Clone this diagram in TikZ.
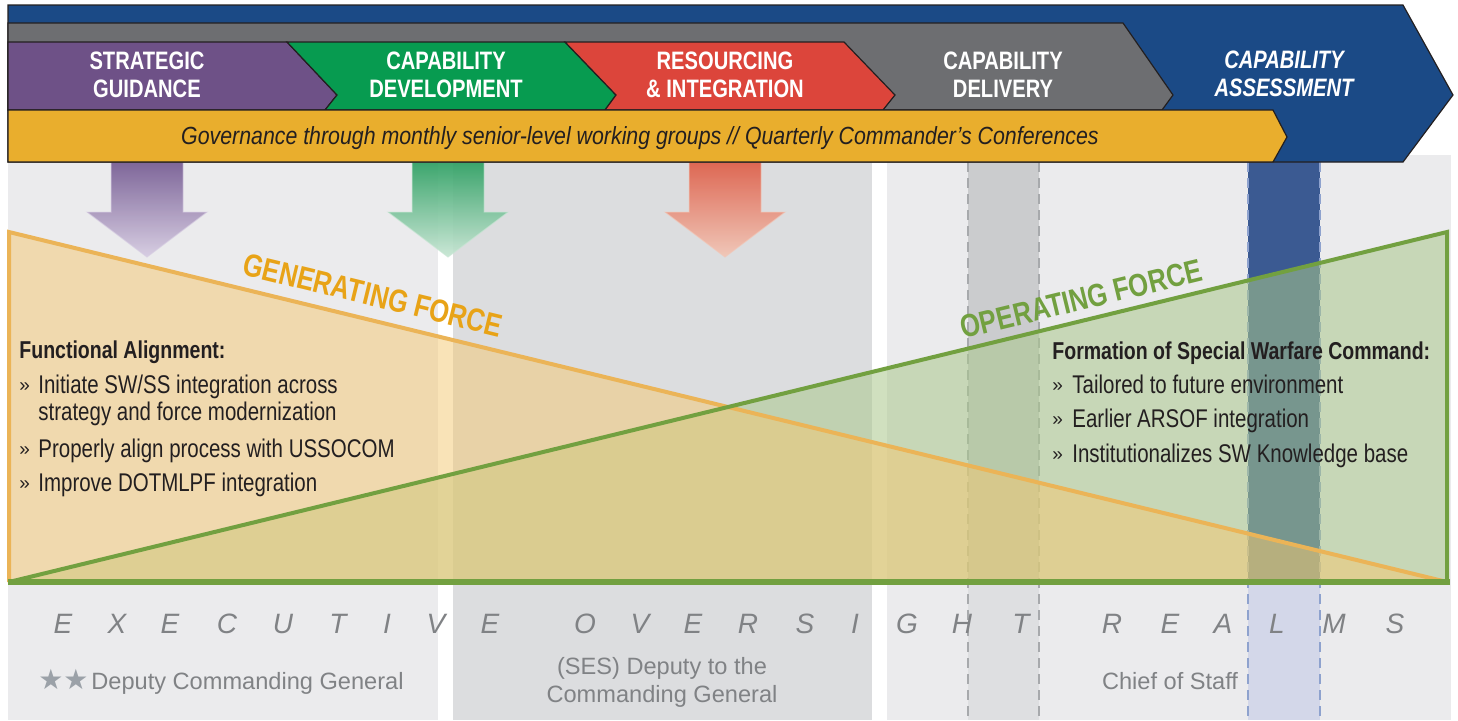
\documentclass[tikz,border=0pt]{standalone}
\usepackage{fontspec}
\setmainfont{Liberation Sans}
\newfontfamily\condfont[FakeStretch=0.8]{Liberation Sans}
\newfontfamily\govfont[FakeStretch=0.86]{Liberation Sans}
\newfontfamily\starfont{DejaVu Sans}
\usetikzlibrary{positioning}

\definecolor{cmdblue}{HTML}{1B4A86}
\definecolor{delgray}{HTML}{6D6E71}
\definecolor{stratpurple}{HTML}{6E5187}
\definecolor{devgreen}{HTML}{079B50}
\definecolor{resred}{HTML}{DC453B}
\definecolor{govyellow}{HTML}{E9AE2D}
\definecolor{inkdark}{HTML}{231F20}
\definecolor{realmgray}{HTML}{808285}
\definecolor{panelgray}{HTML}{EBEBED}
\definecolor{panelmid}{HTML}{DCDDDF}
\definecolor{genorange}{HTML}{E8A317}
\definecolor{genfill}{HTML}{F5C870}
\definecolor{genline}{HTML}{EBB457}
\definecolor{opgreen}{HTML}{72A040}
\definecolor{opfill}{HTML}{AAC88C}
\definecolor{colblue}{HTML}{3B5A92}
\definecolor{colbluelight}{HTML}{D3D7E9}
\definecolor{colblueedge}{HTML}{8EA2CE}
\definecolor{colgray}{HTML}{CBCCCE}
\definecolor{colgraylight}{HTML}{DEDFE1}
\definecolor{colgrayedge}{HTML}{A7A9AC}
\definecolor{starsilver}{HTML}{9BA1A8}
\definecolor{arrpurpletop}{HTML}{765C93}
\definecolor{arrpurplebot}{HTML}{D6CCE2}
\definecolor{arrgreentop}{HTML}{2EA063}
\definecolor{arrgreenbot}{HTML}{C8E6D4}
\definecolor{arrredtop}{HTML}{DE5E48}
\definecolor{arrredbot}{HTML}{F2C6B6}

\tikzset{
  chev/.style={draw=inkdark, line width=0.6pt, line join=miter},
  chevtext/.style={text=white, align=center, inner sep=0pt, font=\condfont\bfseries\fontsize{12.6}{14}\selectfont},
  forcetext/.style={inner sep=0pt, font=\condfont\bfseries\fontsize{16}{16}\selectfont},
  headtext/.style={anchor=base west, text=inkdark, inner sep=0pt, font=\condfont\bfseries\fontsize{12.2}{13}\selectfont},
  itemtext/.style={anchor=base west, text=inkdark, inner sep=0pt, font=\condfont\fontsize{12.8}{14}\selectfont},
  bullet/.style={anchor=base west, text=inkdark, inner sep=0pt, font=\fontsize{9.5}{10}\selectfont},
  realm/.style={text=realmgray, inner sep=0pt, font=\itshape\fontsize{14}{14}\selectfont},
  officetext/.style={text=realmgray, align=center, inner sep=0pt, font=\fontsize{11.8}{14}\selectfont},
  coledge/.style={dash pattern=on 5pt off 3pt, line width=0.8pt},
  blockarrow/.style={line width=0.5pt, fill opacity=0.92, draw opacity=0.6},
}

\newcommand{\downblock}[4]{%
  \shade[blockarrow, top color=#2, bottom color=#3, draw=#4]
    ({#1-36},162) -- ({#1+36},162) -- ({#1+36},212) -- ({#1+60},212)
    -- (#1,257) -- ({#1-60},212) -- ({#1-36},212) -- cycle;}

\begin{document}
\begin{tikzpicture}[x=0.5pt, y=-0.5pt]
  \useasboundingbox (0,0) rectangle (1458,720);
  \fill[white] (0,0) rectangle (1458,720);

  % oversight realm panels
  \fill[panelgray] (8,150) rectangle (438,720);
  \fill[panelmid] (453,150) rectangle (872,720);
  \fill[panelgray] (887,155) rectangle (1451,720);

  % dashed columns
  \fill[colgray] (968,162) rectangle (1039,582);
  \fill[colgraylight] (968,582) rectangle (1039,720);
  \draw[colgrayedge, coledge] (968,162) -- (968,720) (1039,162) -- (1039,720);
  \fill[colblue] (1248,162) rectangle (1320,582);
  \fill[colbluelight] (1248,582) rectangle (1320,720);
  \draw[colblueedge, coledge] (1248,162) -- (1248,720) (1320,162) -- (1320,720);

  % down arrows
  \downblock{147}{arrpurpletop}{arrpurplebot}{arrpurplebot}
  \downblock{448}{arrgreentop}{arrgreenbot}{arrgreenbot}
  \downblock{725}{arrredtop}{arrredbot}{arrredbot}

  % generating / operating force wedges
  \fill[opfill, fill opacity=0.55] (9,582) -- (1447,232) -- (1447,582) -- cycle;
  \fill[genfill, fill opacity=0.5] (9,232) -- (1447,582) -- (9,582) -- cycle;
  \draw[genline, line width=2pt, line join=miter] (9,582) -- (9,232) -- (1447,582);
  \draw[opgreen, line width=2pt, line join=miter] (9,582) -- (1447,232) -- (1447,582);
  \draw[opgreen, line width=2.6pt] (8,582) -- (1450,582);

  % process chevrons
  \filldraw[chev, fill=cmdblue] (8,5) -- (1403,5) -- (1453,95) -- (1403,162) -- (8,162) -- cycle;
  \filldraw[chev, fill=delgray] (8,23) -- (1123,23) -- (1173,95) -- (1162,110) -- (8,110) -- cycle;
  \filldraw[chev, fill=stratpurple] (8,42) -- (287,42) -- (337,95) -- (325,110) -- (8,110) -- cycle;
  \filldraw[chev, fill=devgreen] (287,42) -- (565,42) -- (616,95) -- (605,110) -- (325,110) -- (337,95) -- cycle;
  \filldraw[chev, fill=resred] (565,42) -- (844,42) -- (895,95) -- (883,110) -- (605,110) -- (616,95) -- cycle;
  \filldraw[chev, fill=govyellow] (8,110) -- (1273,110) -- (1287,137) -- (1273,162) -- (8,162) -- cycle;

  \node[chevtext] (strat) at (147,75) {STRATEGIC\\GUIDANCE};
  \node[chevtext] (capdev) at (446,75) {CAPABILITY\\DEVELOPMENT};
  \node[chevtext] (resint) at (725,75) {RESOURCING\\\& INTEGRATION};
  \node[chevtext] (capdel) at (1003,75) {CAPABILITY\\DELIVERY};
  \node[chevtext, font=\condfont\bfseries\itshape\fontsize{12.6}{14}\selectfont] (capass) at (1284,74) {CAPABILITY\\ASSESSMENT};
  \node[anchor=base, inner sep=0pt, text=inkdark, font=\govfont\itshape\fontsize{12.4}{13}\selectfont]
    (govern) at (640,144) {Governance through monthly senior-level working groups // Quarterly Commander’s Conferences};

  % force labels
  \node[forcetext, text=genorange, rotate=-13.67] (genforce) at (373,295) {GENERATING FORCE};
  \node[forcetext, text=opgreen, rotate=13.67] (opforce) at (1081,299) {OPERATING FORCE};

  % functional alignment
  \node[headtext] (funchead) at (19,358) {Functional Alignment:};
  \node[bullet] (fa1m) at (19,391) {»};
  \node[itemtext] (fa1) at (38,393) {Initiate SW/SS integration across};
  \node[itemtext] (fa1b) at (38,420) {strategy and force modernization};
  \node[bullet] (fa2m) at (19,455) {»};
  \node[itemtext] (fa2) at (38,457) {Properly align process with USSOCOM};
  \node[bullet] (fa3m) at (19,489) {»};
  \node[itemtext] (fa3) at (38,491) {Improve DOTMLPF integration};

  % special warfare command
  \node[headtext] (swchead) at (1052,359) {Formation of Special Warfare Command:};
  \node[bullet] (sw1m) at (1052,391) {»};
  \node[itemtext] (sw1) at (1072,393) {Tailored to future environment};
  \node[bullet] (sw2m) at (1052,425) {»};
  \node[itemtext] (sw2) at (1072,427) {Earlier ARSOF integration};
  \node[bullet] (sw3m) at (1052,460) {»};
  \node[itemtext] (sw3) at (1072,462) {Institutionalizes SW Knowledge base};

  % executive oversight realms
  \foreach \x/\l [count=\i] in {63/E,117/X,170/E,227/C,283/U,338/T,387/I,436/V,490/E,
      585/O,640/V,693/E,748/R,805/S,855/I,907/G,962/H,1021/T,
      1112/R,1170/E,1223/A,1277/L,1334/M,1395/S}
    \node[realm] (realm\i) at (\x,624) {\l};

  \node[anchor=base west, inner sep=0pt, text=starsilver, font=\starfont\fontsize{14}{14}\selectfont]
    (dcgstars) at (38,689) {★★};
  \node[officetext, anchor=base west] (dcg) at ([xshift=1pt]dcgstars.base east) {Deputy Commanding General};
  \node[officetext] (ses) at (662,682) {(SES) Deputy to the\\Commanding General};
  \node[officetext] (cos) at (1170,681) {Chief of Staff};
\end{tikzpicture}
\end{document}
